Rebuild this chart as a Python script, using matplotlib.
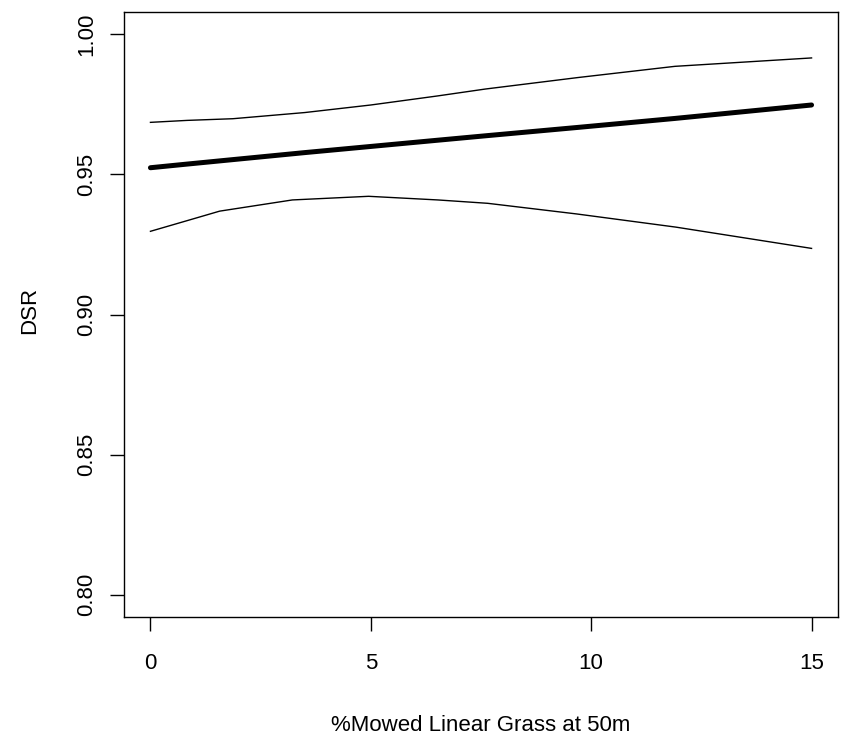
import matplotlib
matplotlib.use("Agg")
import matplotlib.pyplot as plt

plt.rcParams['font.family'] = ['Liberation Sans', 'DejaVu Sans']

# Predicted daily survival rate (DSR) with confidence bounds
mowed_pct = [0, 0.83, 1.87, 3.5, 5.0, 6.5, 7.6, 9.7, 11.9, 15]
dsr_mean  = [0.9524, 0.9537, 0.9553, 0.9578, 0.9600, 0.9622, 0.9638, 0.9668, 0.9700, 0.9748]
dsr_upper = [0.9686, 0.9693, 0.9699, 0.9721, 0.9748, 0.9780, 0.9805, 0.9846, 0.9886, 0.9916]
lower_x   = [0, 0.83, 1.57, 3.22, 4.95, 6.52, 7.65, 9.67, 11.92, 15]
dsr_lower = [0.9297, 0.9335, 0.9369, 0.9409, 0.9422, 0.9409, 0.9397, 0.9359, 0.9312, 0.9236]

x_ticks = [0, 5, 10, 15]
y_ticks = [0.80, 0.85, 0.90, 0.95, 1.00]

fig = plt.figure(figsize=(8.48, 7.38), dpi=100)
ax = fig.add_axes([124/848, 1-617/738, (838-124)/848, (617-12)/738])

ax.plot(mowed_pct, dsr_mean, color='black', lw=3.6, solid_capstyle='round')
ax.plot(mowed_pct, dsr_upper, color='black', lw=1.0)
ax.plot(lower_x, dsr_lower, color='black', lw=1.0)

ax.set_xlim(-0.6, 15.6)
ax.set_ylim(0.792, 1.008)
ax.set_xticks(x_ticks)
ax.set_xticklabels([str(v) for v in x_ticks])
ax.set_yticks(y_ticks)
ax.set_yticklabels([f"{v:.2f}" for v in y_ticks], rotation=90, va='center')

for s in ax.spines.values():
    s.set_linewidth(1.0)
ax.tick_params(axis='both', direction='out', length=10, width=1.0, labelsize=16)
ax.tick_params(axis='x', pad=16)
ax.tick_params(axis='y', pad=9)

ax.set_xlabel('%Mowed Linear Grass at 50m', fontsize=16, va='center')
ax.xaxis.set_label_coords(0.5, -0.179)
ax.set_ylabel('DSR', fontsize=16, va='center')
ax.yaxis.set_label_coords(-0.1324, 0.507)

fig.savefig('out.png', dpi=100)
